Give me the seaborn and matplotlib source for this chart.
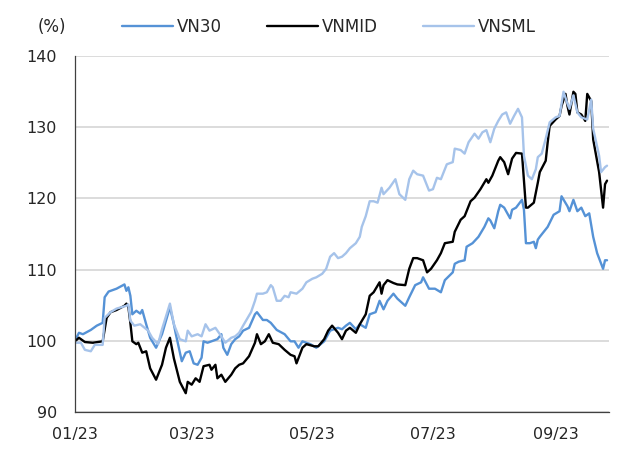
import pandas as pd
import matplotlib
matplotlib.use("Agg")
import matplotlib.pyplot as plt
import matplotlib.dates as mdates
import seaborn as sns

# index levels (%, start = 100); days counted from 01/01/2023
vn30_day = [0, 2, 4, 8, 11, 14, 15, 17, 21, 25, 26, 27, 28, 29, 31, 33, 34, 36, 38, 41,
            44, 46, 48, 50, 51, 54, 56, 58, 60, 62, 64, 65, 67, 69, 72, 74, 75, 77, 79, 81,
            83, 85, 88, 91, 92, 95, 97, 99, 102, 106, 109, 111, 113, 115, 119, 122, 126, 129, 133, 135,
            137, 139, 142, 144, 147, 149, 152, 154, 156, 158, 161, 163, 167, 169, 172, 175, 176, 179, 182, 185,
            187, 191, 192, 194, 197, 198, 201, 204, 207, 209, 210, 212, 214, 215, 217, 220, 221, 223, 226, 227,
            228, 230, 232, 233, 234, 235, 239, 242, 245, 246, 249, 250, 252, 254, 256, 258, 260, 262, 264, 267,
            268, 269]
vn30 = [100.0, 101.1, 100.9, 101.5, 102.1, 102.5, 106.1, 106.9, 107.3, 107.9, 107.0, 107.5, 106.3, 103.7, 104.2, 103.8, 104.3, 102.3, 100.4, 99.0,
        100.9, 102.8, 104.7, 102.3, 100.9, 97.1, 98.3, 98.5, 96.8, 96.6, 97.6, 99.9, 99.7, 99.9, 100.2, 100.9, 99.0, 98.0, 99.5, 100.2,
        100.6, 101.4, 101.8, 103.7, 104.0, 102.9, 102.9, 102.5, 101.5, 100.9, 99.9, 99.9, 99.0, 99.9, 99.5, 99.0, 99.9, 101.4, 101.8, 101.6,
        102.1, 102.5, 101.6, 102.3, 101.8, 103.7, 104.0, 105.6, 104.4, 105.6, 106.6, 105.9, 104.9, 106.1, 107.8, 108.2, 108.9, 107.3, 107.3, 106.8,
        108.5, 109.6, 110.8, 111.1, 111.3, 113.2, 113.7, 114.6, 116.0, 117.2, 116.9, 115.8, 118.2, 119.1, 118.7, 117.2, 118.4, 118.7, 119.8, 118.4,
        113.7, 113.7, 113.9, 113.0, 114.2, 114.6, 116.0, 117.7, 118.2, 120.3, 118.9, 118.2, 119.8, 118.2, 118.7, 117.5, 117.9, 114.6, 112.3, 110.1,
        111.3, 111.3]

vnmid_day = [0, 2, 5, 9, 14, 16, 18, 21, 25, 26, 27, 28, 29, 31, 32, 34, 36, 38, 41, 44,
             46, 48, 50, 53, 56, 57, 59, 61, 63, 65, 68, 69, 71, 72, 74, 76, 79, 81, 83, 85,
             88, 91, 92, 94, 96, 98, 100, 103, 106, 109, 111, 112, 115, 117, 121, 123, 126, 128, 130, 133,
             135, 137, 139, 142, 144, 147, 149, 151, 154, 155, 156, 158, 161, 163, 167, 169, 171, 173, 176, 178,
             180, 183, 185, 187, 191, 192, 195, 197, 200, 202, 205, 208, 209, 211, 214, 215, 217, 219, 221, 223,
             226, 228, 229, 232, 234, 235, 238, 239, 240, 243, 245, 246, 248, 249, 250, 252, 253, 254, 256, 258,
             259, 261, 262, 265, 267, 268, 269]
vnmid = [99.9, 100.4, 99.8, 99.7, 99.9, 103.2, 104.0, 104.3, 104.9, 105.2, 104.7, 102.5, 99.9, 99.5, 99.7, 98.3, 98.5, 96.1, 94.5, 96.6,
         99.0, 100.4, 97.5, 94.2, 92.6, 94.2, 93.8, 94.7, 94.2, 96.4, 96.6, 95.9, 96.6, 94.7, 95.2, 94.2, 95.2, 96.1, 96.6, 96.8,
         97.8, 99.7, 100.9, 99.5, 99.9, 100.9, 99.7, 99.5, 98.7, 98.0, 97.8, 96.8, 99.0, 99.5, 99.2, 99.2, 100.2, 101.4, 102.1, 101.1,
         100.2, 101.4, 101.8, 101.1, 102.3, 103.7, 106.3, 106.8, 108.2, 106.6, 107.8, 108.5, 108.1, 107.9, 107.8, 110.1, 111.6, 111.6, 111.3, 109.6,
         110.1, 111.3, 112.3, 113.7, 113.9, 115.3, 117.0, 117.5, 119.6, 120.1, 121.3, 122.7, 122.2, 123.2, 125.3, 125.8, 125.1, 123.4, 125.6, 126.4,
         126.3, 118.7, 118.7, 119.4, 122.2, 123.7, 125.3, 127.9, 130.2, 131.1, 131.6, 133.0, 134.7, 133.0, 131.8, 135.0, 134.7, 132.1, 131.8, 130.9,
         134.7, 133.7, 128.3, 123.7, 118.7, 122.0, 122.5]

vnsml_day = [0, 3, 5, 8, 10, 14, 15, 18, 21, 26, 27, 28, 30, 33, 37, 39, 42, 44, 48, 50,
             53, 56, 57, 59, 62, 64, 66, 68, 71, 74, 76, 79, 81, 83, 85, 89, 91, 92, 95, 97,
             99, 100, 102, 104, 106, 108, 109, 112, 115, 117, 120, 122, 125, 127, 129, 131, 133, 135, 137, 139,
             142, 144, 145, 147, 149, 151, 153, 155, 156, 159, 162, 164, 167, 169, 171, 173, 176, 179, 181, 183,
             185, 188, 191, 192, 195, 197, 199, 202, 204, 206, 208, 210, 212, 214, 216, 218, 220, 222, 224, 226,
             227, 229, 231, 233, 234, 236, 238, 240, 243, 245, 246, 247, 249, 250, 252, 254, 256, 259, 261, 262,
             265, 266, 268, 269]
vnsml = [99.7, 99.7, 98.7, 98.5, 99.4, 99.4, 103.2, 104.0, 104.5, 104.9, 105.1, 102.8, 102.1, 102.3, 101.4, 100.4, 99.5, 101.6, 105.2, 102.3,
         100.2, 99.9, 101.4, 100.6, 100.9, 100.6, 102.3, 101.4, 101.8, 100.6, 99.7, 100.4, 100.6, 101.1, 102.1, 104.0, 105.6, 106.6, 106.6, 106.8,
         107.8, 107.5, 105.6, 105.6, 106.3, 106.1, 106.8, 106.6, 107.3, 108.2, 108.7, 108.9, 109.4, 110.1, 111.8, 112.3, 111.6, 111.8, 112.3, 113.0,
         113.7, 114.6, 116.0, 117.5, 119.6, 119.6, 119.4, 121.5, 120.6, 121.5, 122.7, 120.6, 119.8, 122.7, 123.9, 123.4, 123.2, 121.1, 121.3, 122.9,
         122.7, 124.8, 125.1, 127.0, 126.8, 126.3, 127.9, 129.1, 128.4, 129.3, 129.6, 127.9, 129.8, 130.9, 131.8, 132.1, 130.5, 131.6, 132.6, 131.4,
         126.0, 123.2, 122.7, 124.1, 125.8, 126.3, 128.4, 130.7, 131.4, 131.6, 133.3, 135.0, 133.3, 132.6, 134.5, 132.1, 131.4, 131.1, 133.9, 129.8,
         126.0, 123.7, 124.4, 124.6]

names = ["VN30", "VNMID", "VNSML"]
colors = ["#5592d6", "#000000", "#a6c3ea"]
tick_dates = ["2023-01-01", "2023-03-01", "2023-05-01", "2023-07-01", "2023-09-01"]

start = pd.Timestamp("2023-01-01")
frames = []
for name, days, vals in zip(names, [vn30_day, vnmid_day, vnsml_day], [vn30, vnmid, vnsml]):
    frames.append(pd.DataFrame({"date": start + pd.to_timedelta(days, unit="D"),
                                "value": vals, "index": name}))
df = pd.concat(frames, ignore_index=True)

sns.set_style("white")
plt.rcParams["font.family"] = ["DejaVu Sans"]

fig = plt.figure(figsize=(6.27, 4.5), dpi=100)
ax = fig.add_axes([0.1196, 0.0851, 0.8517, 0.790])

ax.yaxis.grid(True, color="#d9d9d9", linewidth=1.3)
ax.set_axisbelow(True)

sns.lineplot(data=df, x="date", y="value", hue="index", hue_order=names,
             palette=colors, linewidth=1.7, estimator=None, ax=ax)

ax.set_ylim(90, 140)
ax.set_yticks([90, 100, 110, 120, 130, 140])
ax.set_xlim(start, start + pd.Timedelta(days=270))
ax.set_xticks(pd.to_datetime(tick_dates))
ax.xaxis.set_major_formatter(mdates.DateFormatter("%m/%y"))
ax.set_xlabel("")
ax.set_ylabel("")

for s in ["top", "right"]:
    ax.spines[s].set_visible(False)
for s in ["left", "bottom"]:
    ax.spines[s].set_color("#404040")
    ax.spines[s].set_linewidth(0.9)

ax.tick_params(axis="both", direction="in", length=5, width=0.9, color="#404040",
               labelsize=11.5, labelcolor="#262626")
ax.tick_params(axis="y", pad=13)
ax.tick_params(axis="x", pad=11)

handles, labels = ax.get_legend_handles_labels()
ax.get_legend().remove()
fig.legend(handles, labels, loc="center left", bbox_to_anchor=(122 / 627, 0.94),
           ncol=3, frameon=False, fontsize=12, handlelength=3.06, handletextpad=0.24,
           columnspacing=2.7, borderpad=0, borderaxespad=0)
fig.text(52 / 627, 0.94, "(%)", ha="center", va="center", fontsize=12, color="#262626")

fig.savefig("out.png", dpi=100)
